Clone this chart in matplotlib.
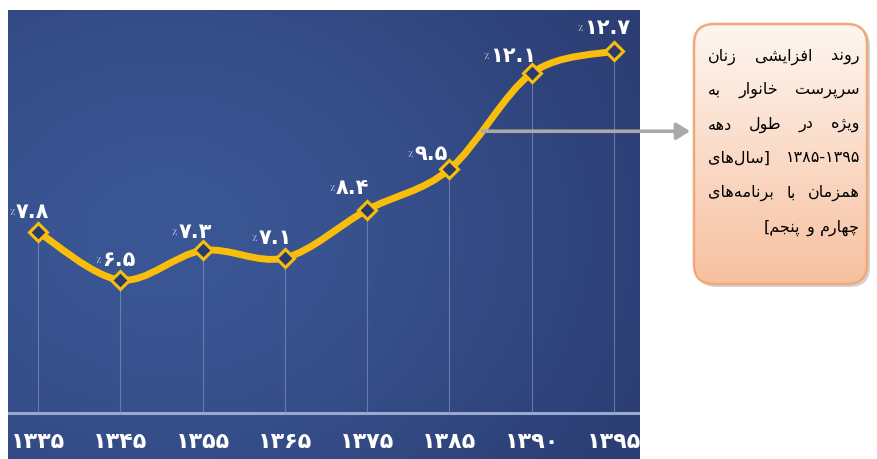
import numpy as np
import matplotlib
matplotlib.use("Agg")
import matplotlib.pyplot as plt
from matplotlib.path import Path
from matplotlib.patches import PathPatch, FancyBboxPatch, FancyArrowPatch
from matplotlib.offsetbox import TextArea, HPacker, AnnotationBbox

# ---------------- data ----------------
years = [1335, 1345, 1355, 1365, 1375, 1385, 1390, 1395]
values = [7.8, 6.5, 7.3, 7.1, 8.4, 9.5, 12.1, 12.7]
note_lines = [
    ["روند", "افزایشی", "زنان"],
    ["سرپرست", "خانوار", "به"],
    ["ویژه", "در", "طول", "دهه"],
    ["۱۳۸۵-۱۳۹۵", "[سال‌های"],
    ["همزمان", "با", "برنامه‌های"],
    ["چهارم", "و", "پنجم]"],
]

# ---------------- helpers ----------------
FA_DIGITS = str.maketrans("0123456789", "۰۱۲۳۴۵۶۷۸۹")


def fa(s):
    return str(s).translate(FA_DIGITS)


FORMS = {
    'ا': ('\uFE8D', '\uFE8E', None, None),
    'ب': ('\uFE8F', '\uFE90', '\uFE91', '\uFE92'),
    'پ': ('\uFB56', '\uFB57', '\uFB58', '\uFB59'),
    'ت': ('\uFE95', '\uFE96', '\uFE97', '\uFE98'),
    'ج': ('\uFE9D', '\uFE9E', '\uFE9F', '\uFEA0'),
    'چ': ('\uFB7A', '\uFB7B', '\uFB7C', '\uFB7D'),
    'خ': ('\uFEA5', '\uFEA6', '\uFEA7', '\uFEA8'),
    'د': ('\uFEA9', '\uFEAA', None, None),
    'ر': ('\uFEAD', '\uFEAE', None, None),
    'ز': ('\uFEAF', '\uFEB0', None, None),
    'ژ': ('\uFB8A', '\uFB8B', None, None),
    'س': ('\uFEB1', '\uFEB2', '\uFEB3', '\uFEB4'),
    'ش': ('\uFEB5', '\uFEB6', '\uFEB7', '\uFEB8'),
    'ط': ('\uFEC1', '\uFEC2', '\uFEC3', '\uFEC4'),
    'ف': ('\uFED1', '\uFED2', '\uFED3', '\uFED4'),
    'ل': ('\uFEDD', '\uFEDE', '\uFEDF', '\uFEE0'),
    'م': ('\uFEE1', '\uFEE2', '\uFEE3', '\uFEE4'),
    'ن': ('\uFEE5', '\uFEE6', '\uFEE7', '\uFEE8'),
    'ه': ('\uFEE9', '\uFEEA', '\uFEEB', '\uFEEC'),
    'و': ('\uFEED', '\uFEEE', None, None),
    'ی': ('\uFBFC', '\uFBFD', '\uFBFE', '\uFBFF'),
}
MIRROR = {'[': ']', ']': '['}


def visual(word):
    """Shape a Persian word and return it in visual (left-to-right) order."""
    if not any(c in FORMS for c in word):
        return word
    chars = list(word)
    out = []
    for i, c in enumerate(chars):
        if c not in FORMS:
            out.append(MIRROR.get(c, c))
            continue
        prev = chars[i - 1] if i > 0 else None
        nxt = chars[i + 1] if i + 1 < len(chars) else None
        jp = prev in FORMS and FORMS[prev][2] is not None
        jn = FORMS[c][2] is not None and nxt in FORMS
        iso, fin, ini, med = FORMS[c]
        out.append(med if (jp and jn) else fin if jp else ini if jn else iso)
    return ''.join(reversed([g for g in out if g != '\u200c']))


# ---------------- figure ----------------
W, H = 877, 459
fig = plt.figure(figsize=(W / 100, H / 100), dpi=100, facecolor="white")

# chart panel (pixels 8..640 x 10..459)
ax = fig.add_axes([8 / W, 0, 632 / W, 449 / H])
ax.set_xlim(-0.3646, 7.316)
ax.set_ylim(1.655, 13.81)
for s in ax.spines.values():
    s.set_visible(False)
ax.set_yticks([])

# background gradient
gy, gx = np.mgrid[0:1:300j, 0:1:400j]
wgt = np.exp(-((gx - 0.25) / 0.8) ** 2 - ((gy - 0.5) / 0.9) ** 2)
dark = np.array([37, 50, 100]) / 255
light = np.array([58, 86, 148]) / 255
img = dark + (light - dark) * wgt[..., None]
ax.imshow(img, extent=[0, 1, 0, 1], transform=ax.transAxes, aspect="auto",
          zorder=0, origin="upper")

x = np.arange(len(values))
y = np.array(values)
base = 2.9
ax.axhline(base, color="#9aa9cf", lw=2.2, zorder=2)
ax.vlines(x, base, y, color="#7d8fbf", lw=0.8, alpha=0.7, zorder=2)

# smooth curve (Catmull-Rom as cubic Bezier)
pts = np.column_stack([x, y]).astype(float)
ext = np.vstack([pts[0], pts, pts[-1]])
verts = [tuple(pts[0])]
codes = [Path.MOVETO]
segs = []
for i in range(len(pts) - 1):
    p0, p1, p2, p3 = ext[i], ext[i + 1], ext[i + 2], ext[i + 3]
    c1 = p1 + (p2 - p0) / 6
    c2 = p2 - (p3 - p1) / 6
    verts += [tuple(c1), tuple(c2), tuple(p2)]
    codes += [Path.CURVE4] * 3
    segs.append((p1, c1, c2, p2))
ax.add_patch(PathPatch(Path(verts, codes), fill=False, edgecolor="#F9BE0C",
                       lw=5, capstyle="round", joinstyle="round", zorder=3))
ax.plot(x, y, linestyle="none", marker="D", markersize=9,
        markerfacecolor="#2b3a6c", markeredgecolor="#F9BE0C",
        markeredgewidth=2.2, zorder=4)

# value labels
label_offsets_px = [(-9, 20), (-5, 20), (-11, 18), (-13, 20),
                    (-18, 22), (-22, 15), (-22, 17), (-10, 23)]
for xi, v, (dx, dy) in zip(x, values, label_offsets_px):
    pct = TextArea("٪", textprops=dict(color="#dfe4f2", fontsize=7,
                                       family="DejaVu Sans"))
    num = TextArea(fa(f"{v:.1f}"), textprops=dict(color="white", fontsize=15,
                                                  fontweight="bold",
                                                  family="DejaVu Sans"))
    pack = HPacker(children=[pct, num], align="center", pad=0, sep=1)
    ab = AnnotationBbox(pack, (xi, v), xybox=(dx * 0.72, dy * 0.72),
                        xycoords="data", boxcoords="offset points",
                        frameon=False, box_alignment=(0.5, 0.5), zorder=5)
    ax.add_artist(ab)

# x tick labels inside the panel
ax.set_xticks(x)
ax.set_xticklabels([fa(yr) for yr in years], color="white", fontsize=16,
                   fontweight="bold", family="DejaVu Sans")
ax.tick_params(axis="x", length=0, pad=-19.5)

# ---------------- note box ----------------
bx0, by0, bw, bh = 692, 288, 181, 267  # pixel left, bottom(y from top), w, h
bax = fig.add_axes([bx0 / W, 1 - by0 / H, bw / W, bh / H])
bax.set_xlim(0, bw)
bax.set_ylim(0, bh)
bax.axis("off")
shadow = FancyBboxPatch((5, 1), bw - 8, bh - 6,
                        boxstyle="round,pad=0,rounding_size=20",
                        facecolor="#9c9c9c", edgecolor="none", alpha=0.45,
                        zorder=0)
bax.add_patch(shadow)
box = FancyBboxPatch((2, 4), bw - 8, bh - 7,
                     boxstyle="round,pad=0,rounding_size=20",
                     facecolor="none", edgecolor="#F2A878", lw=1.8, zorder=2)
bax.add_patch(box)
grad = np.linspace(0, 1, 200)[:, None]
top = np.array([254, 246, 241]) / 255
bot = np.array([247, 192, 158]) / 255
gimg = top + (bot - top) * grad[..., None]
gimg = np.repeat(gimg, 10, axis=1)
im = bax.imshow(gimg, extent=[0, bw, 0, bh], aspect="auto", origin="upper",
                zorder=1)
im.set_clip_path(box)

# justified RTL text
left_px, right_px = 16, 168
line_y = [288 - 57, 288 - 90, 288 - 125, 288 - 158, 288 - 193, 288 - 228]
fig.canvas.draw()
renderer = fig.canvas.get_renderer()
for li, (words, ly) in enumerate(zip(note_lines, line_y)):
    vis = [visual(w) for w in reversed(words)]  # left-to-right order
    texts = [bax.text(0, ly, t, fontsize=11.5, color="black", ha="left",
                      va="center", family="DejaVu Sans", zorder=3) for t in vis]
    widths = [t.get_window_extent(renderer).width for t in texts]
    if li == len(note_lines) - 1:
        gap = 6
        xpos = right_px - sum(widths) - gap * (len(widths) - 1)
    else:
        gap = (right_px - left_px - sum(widths)) / (len(widths) - 1)
        xpos = left_px
    for t, wdt in zip(texts, widths):
        t.set_x(xpos)
        xpos += wdt + gap

# arrow from the curve to the box
p1, c1, c2, p2 = segs[5]
t = 0.4
tail = ((1 - t) ** 3) * p1 + 3 * (1 - t) ** 2 * t * c1 + 3 * (1 - t) * t ** 2 * c2 + t ** 3 * p2
tail_fig = fig.transFigure.inverted().transform(ax.transData.transform(tail))
fig.add_artist(FancyArrowPatch(
    tail_fig, (690 / W, tail_fig[1]), transform=fig.transFigure,
    arrowstyle="-|>,head_length=8,head_width=5", color="#a9a9a9", lw=2.6,
    shrinkA=0, shrinkB=0, zorder=10))

fig.savefig("out.png", dpi=100, facecolor="white")
